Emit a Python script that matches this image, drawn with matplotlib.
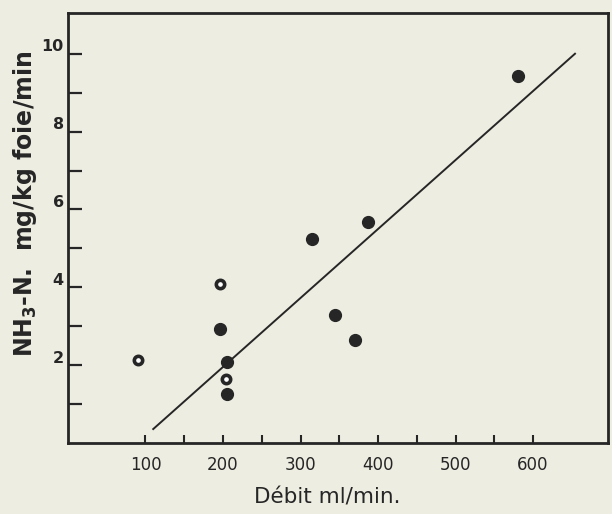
import matplotlib
matplotlib.use("Agg")
from matplotlib import pyplot as plt
from matplotlib.transforms import ScaledTranslation

# points (filled = solid dots, open = dots with white centre)
flow_filled = [196, 205, 205, 315, 344, 370, 387, 581]
nh3_filled = [2.92, 2.09, 1.26, 5.25, 3.30, 2.65, 5.67, 9.42]
flow_open = [91, 196, 204]
nh3_open = [2.13, 4.09, 1.64]

# regression line end points
fit_x = [110, 654]
fit_y = [0.36, 10.0]

x_ticks = list(range(100, 650, 50))
x_labels = ["100", "", "200", "", "300", "", "400", "", "500", "", "600"]
y_ticks = list(range(1, 11))
y_labels = ["" if v % 2 else str(v) for v in y_ticks]

paper = "#eeede2"
ink = "#262626"

plt.rcParams['font.family'] = ['DejaVu Sans']

fig = plt.figure(figsize=(6.12, 5.14), dpi=100, facecolor=paper)
ax = fig.add_axes([0.111, 0.138, 0.883, 0.837], facecolor=paper)

ax.plot(fit_x, fit_y, color=ink, lw=1.4, zorder=2)
ax.plot(flow_filled, nh3_filled, 'o', ms=8.5, color=ink, mec=ink, zorder=3)
ax.plot(flow_open, nh3_open, 'o', ms=6, mfc='white', mec=ink, mew=2.6, zorder=3)

ax.set_xlim(0, 697)
ax.set_ylim(0, 11.05)

ax.set_xticks(x_ticks)
ax.set_xticklabels(x_labels)
ax.set_yticks(y_ticks)
ax.set_yticklabels(y_labels, fontweight='bold')

ax.tick_params(axis='x', direction='in', length=6, width=1.5, color=ink,
               labelcolor=ink, labelsize=12, pad=9)
ax.tick_params(axis='y', direction='in', length=10, width=1.6, color=ink,
               labelcolor=ink, labelsize=11.5, pad=3)

# y labels sit a little above their ticks in the original
for lab in ax.get_yticklabels():
    lab.set_transform(lab.get_transform() + ScaledTranslation(0, 6 / 72, fig.dpi_scale_trans))

for s in ax.spines.values():
    s.set_color(ink)
    s.set_linewidth(2)

ax.set_xlabel("Débit ml/min.", fontsize=15.5, color=ink, va='center')
ax.xaxis.set_label_coords(0.48, -0.126)
ax.set_ylabel("NH$_\\mathbf{3}$-N.  mg/kg foie/min", fontsize=17, fontweight='bold',
              color=ink, va='center')
ax.yaxis.set_label_coords(-0.08, 0.557)

fig.savefig("out.png", dpi=100, facecolor=paper)
